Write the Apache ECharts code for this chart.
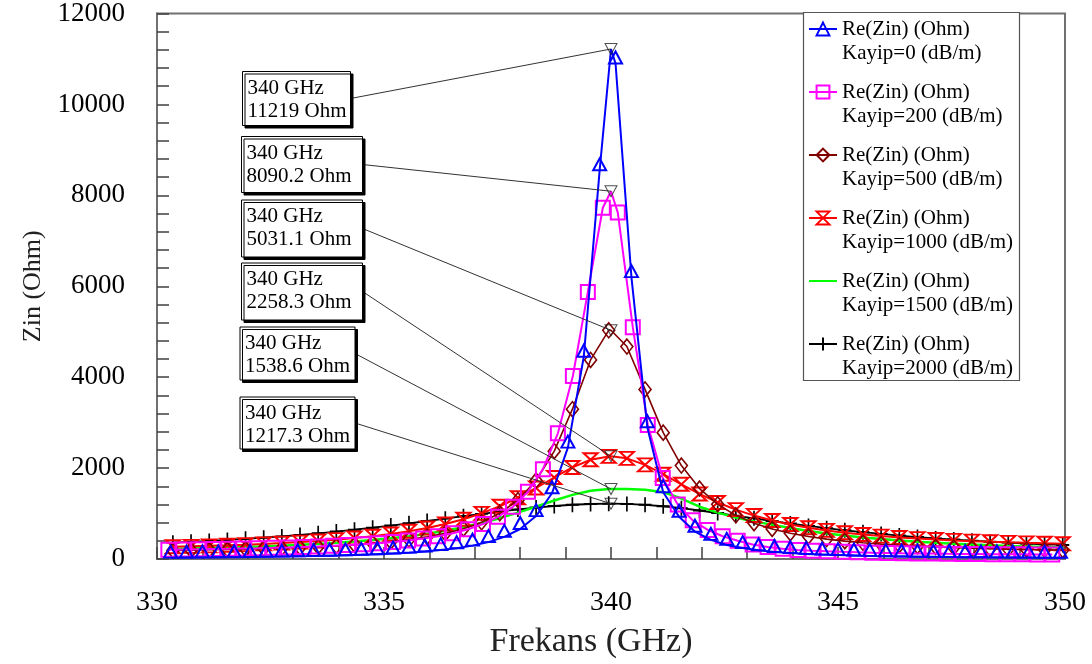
<!DOCTYPE html>
<html>
<head>
<meta charset="utf-8">
<script src="https://cdn.jsdelivr.net/npm/echarts@6/dist/echarts.min.js"></script>
<style>html,body{margin:0;padding:0;background:#fff}#c{width:1092px;height:664px}</style>
</head>
<body>
<div id="c"></div>
<script>
// ---------- data ----------
const seriesNames = [
  'Re(Zin) (Ohm)\nKayip=0 (dB/m)',
  'Re(Zin) (Ohm)\nKayip=200 (dB/m)',
  'Re(Zin) (Ohm)\nKayip=500 (dB/m)',
  'Re(Zin) (Ohm)\nKayip=1000 (dB/m)',
  'Re(Zin) (Ohm)\nKayip=1500 (dB/m)',
  'Re(Zin) (Ohm)\nKayip=2000 (dB/m)'
];
const peakFreq = 340;
const peakZ = [11219, 8090.2, 5031.1, 2258.3, 1538.6, 1217.3];
const peakLabels = ['340 GHz\n11219 Ohm','340 GHz\n8090.2 Ohm','340 GHz\n5031.1 Ohm','340 GHz\n2258.3 Ohm','340 GHz\n1538.6 Ohm','340 GHz\n1217.3 Ohm'];

const fBlue = [330.30,330.65,331.00,331.35,331.70,332.05,332.40,332.75,333.10,333.45,333.80,334.15,334.50,334.85,335.20,335.55,335.90,336.25,336.60,336.95,337.30,337.65,338.00,338.35,338.70,339.05,339.40,339.75,340.10,340.45,340.80,341.15,341.50,341.85,342.20,342.55,342.90,343.25,343.60,343.95,344.30,344.65,345.00,345.35,345.70,346.05,346.40,346.75,347.10,347.45,347.80,348.15,348.50,348.85,349.20,349.55,349.90];
const zBlue = [30,32,35,37,41,44,48,53,59,65,73,81,92,105,120,140,165,196,238,294,372,486,660,944,1446,2450,4450,8550,
  10900,
  6200,2900,1470,930,600,420,310,240,190,155,130,112,97,86,76,68,62,56,51,47,43,40,37,35,33,31,29,27];

const fMagenta = [330.25,330.58,330.91,331.24,331.57,331.90,332.23,332.56,332.89,333.22,333.55,333.88,334.21,334.54,334.87,335.20,335.53,335.86,336.19,336.52,336.85,337.18,337.51,337.84,338.17,338.50,338.83,339.16,339.49,339.82,340.15,340.48,340.81,341.14,341.47,341.80,342.13,342.46,342.79,343.12,343.45,343.78,344.11,344.44,344.77,345.10,345.43,345.76,346.09,346.42,346.75,347.08,347.41,347.74,348.07,348.40,348.73,349.06,349.39,349.72];
const zMagenta = [206,210,214,219,224,231,237,245,254,264,276,290,306,325,348,375,409,450,501,568,654,769,927,1150,1478,1977,2765,4025,5875,7726,
  7620,5100,2950,1780,1200,850,640,500,400,320,262,226,200,182,168,157,148,140,134,128,123,119,115,112,109,106,104,102,100,98];

const fGrid = [330.35,330.75,331.15,331.55,331.95,332.35,332.75,333.15,333.55,333.95,334.35,334.75,335.15,335.55,335.95,336.35,336.75,337.15,337.55,337.95,338.35,338.75,339.15,339.55,339.95,340.35,340.75,341.15,341.55,341.95,342.35,342.75,343.15,343.55,343.95,344.35,344.75,345.15,345.55,345.95,346.35,346.75,347.15,347.55,347.95,348.35,348.75,349.15,349.55,349.95];
const zBrown = [189,195,202,209,218,229,241,255,271,291,315,345,381,428,487,564,666,808,1006,1295,1725,2373,3296,4379,5030,
  4674,3731,2780,2055,1550,1203,961,788,662,567,495,438,393,357,328,303,283,266,251,238,228,218,210,203,196];
const zRed = [268,278,289,301,316,332,350,372,397,426,461,502,551,610,681,768,874,1003,1160,1347,1562,1793,2014,2183,2257,
  2214,2070,1866,1643,1431,1244,1086,955,848,760,688,629,579,538,504,474,449,428,409,393,379,366,355,346,337];
const zGreen = [223,231,241,251,263,277,293,311,331,356,384,417,455,501,556,622,699,791,898,1020,1153,1288,1410,1500,1538,
  1540,1525,1470,1330,1150,1020,910,825,756,682,618,563,515,474,438,407,380,357,336,318,302,287,275,263,253];
const zBlack = [360,378,398,420,443,468,497,528,565,603,645,689,736,785,836,888,941,993,1043,1090,1131,1166,1193,1210,1217,
  1211,1192,1160,1117,1067,1011,953,894,836,780,727,678,632,589,551,515,483,453,427,402,380,360,341,325,309];

const xTicks = {min: 330, max: 350, step: 5};
const yTicks = {min: 0, max: 12000, step: 2000};

// ---------- chart ----------
const FONT = '"Liberation Serif","Times New Roman",Times,serif';

function withPeak(f, z, peak) {
  const pts = f.map((x, i) => ({value: [x, z[i]]}));
  pts.push({value: [peakFreq, peak], symbol: 'none'});
  pts.sort((a, b) => a.value[0] - b.value[0]);
  return pts;
}

const styles = [
  {color: '#0000ff', symbol: 'triangle', size: [13, 12], offset: [0, -6], lw: 2, bw: 2, f: fBlue, z: zBlue},
  {color: '#ff00ff', symbol: 'rect', size: [14, 14], offset: [0, 0], lw: 2, bw: 2, f: fMagenta, z: zMagenta},
  {color: '#800000', symbol: 'diamond', size: [12, 15], offset: [0, 0], lw: 1.6, bw: 1.6, f: fGrid, z: zBrown},
  {color: '#ff0000', symbol: 'path://M0,0L10,0L0,10L10,10Z', size: [14, 13], offset: [0, 0], lw: 2, bw: 2, f: fGrid, z: zRed},
  {color: '#00ff00', symbol: 'line', size: 10, offset: [0, 0], lw: 2.5, bw: 2, f: fGrid, z: zGreen, noSymbol: true},
  {color: '#000000', symbol: 'path://M5,0L5,10M0,5L10,5', size: [13, 15], offset: [0, 0], lw: 1.8, bw: 1.8, f: fGrid, z: zBlack}
];

const series = [];
for (let i = styles.length - 1; i >= 0; i--) {
  const s = styles[i];
  series.push({
    name: seriesNames[i],
    type: 'line',
    data: withPeak(s.f, s.z, peakZ[i]),
    symbol: s.symbol,
    symbolSize: s.size,
    symbolOffset: s.offset,
    showSymbol: !s.noSymbol,
    showAllSymbol: true,
    smooth: false,
    lineStyle: {color: s.color, width: s.lw},
    itemStyle: {color: 'rgba(0,0,0,0)', borderColor: s.color, borderWidth: s.bw},
    emphasis: {disabled: true},
    z: 2 + (styles.length - i) * 0.01
  });
}
series.push({
  name: 'peaks',
  type: 'scatter',
  data: peakZ.map(v => [peakFreq, v]),
  symbol: 'triangle',
  symbolRotate: 180,
  symbolSize: [12, 11],
  itemStyle: {color: 'rgba(0,0,0,0)', borderColor: '#222', borderWidth: 1},
  z: 5,
  silent: true
});

const chart = echarts.init(document.getElementById('c'), null, {renderer: 'canvas'});
const axisCommon = {
  type: 'value',
  axisLine: {show: true, onZero: false, lineStyle: {color: '#707070', width: 2}},
  axisTick: {show: true, inside: true, length: 12, lineStyle: {color: '#404040', width: 1.5}},
  minorTick: {show: true, splitNumber: 5, length: 12, lineStyle: {color: '#404040', width: 1.5}},
  splitLine: {show: false},
  nameLocation: 'middle'
};
chart.setOption({
  animation: false,
  backgroundColor: '#fff',
  grid: {left: 157, right: 27, top: 12, bottom: 103, show: true, borderColor: '#707070', borderWidth: 2, backgroundColor: 'rgba(0,0,0,0)'},
  xAxis: Object.assign({}, axisCommon, {
    min: xTicks.min, max: xTicks.max, interval: xTicks.step,
    axisLabel: {fontFamily: FONT, fontSize: 28, color: '#000', margin: 30, formatter: v => String(v)},
    name: 'Frekans (GHz)', nameGap: 66,
    nameTextStyle: {fontFamily: FONT, fontSize: 34, color: '#222', padding: [0, 40, 0, 0]}
  }),
  yAxis: Object.assign({}, axisCommon, {
    min: yTicks.min, max: yTicks.max, interval: yTicks.step,
    axisLabel: {fontFamily: FONT, fontSize: 27, color: '#000', margin: 32, formatter: v => String(v)},
    name: 'Zin (Ohm)', nameGap: 105,
    nameTextStyle: {fontFamily: FONT, fontSize: 26, color: '#222'}
  }),
  legend: {
    data: seriesNames,
    orient: 'vertical',
    left: 808, top: -7,
    padding: 0,
    itemGap: -9,
    itemWidth: 28, itemHeight: 16,
    selectedMode: false,
    formatter: name => ' \n' + name,
    textStyle: {fontFamily: FONT, fontSize: 21, color: '#000', lineHeight: 24},
    z: 6
  },
  series: series
});

// annotation boxes and leader lines
const boxes = [
  [242.5, 71.5, 108, 54],
  [241.5, 136.5, 121, 56],
  [241.5, 200, 121, 57],
  [241.5, 263, 121, 57],
  [240, 327, 115, 53],
  [240, 397, 115, 52]
];
const graphics = [{
  type: 'rect', shape: {x: 803.5, y: 12.5, width: 216, height: 368},
  style: {fill: '#fff', stroke: '#555', lineWidth: 1.2}, z: 3
}];
boxes.forEach((b, i) => {
  const p = chart.convertToPixel({gridIndex: 0}, [peakFreq, peakZ[i]]);
  graphics.push({
    type: 'line', shape: {x1: b[0] + b[2], y1: b[1] + b[3] / 2, x2: p[0], y2: p[1]},
    style: {stroke: '#333', lineWidth: 1}, z: 4, silent: true
  });
  graphics.push({
    type: 'rect', shape: {x: b[0], y: b[1], width: b[2], height: b[3]},
    style: {fill: '#fff', stroke: '#000', lineWidth: 1, shadowColor: '#000', shadowOffsetX: 2.5, shadowOffsetY: 2.5, shadowBlur: 0},
    z: 5
  });
  graphics.push({
    type: 'text', x: b[0] + 5, y: b[1] + 5,
    style: {text: peakLabels[i], font: '21px ' + FONT, lineHeight: 23, fill: '#000'},
    z: 6
  });
});
chart.setOption({graphic: graphics});
</script>
</body>
</html>
